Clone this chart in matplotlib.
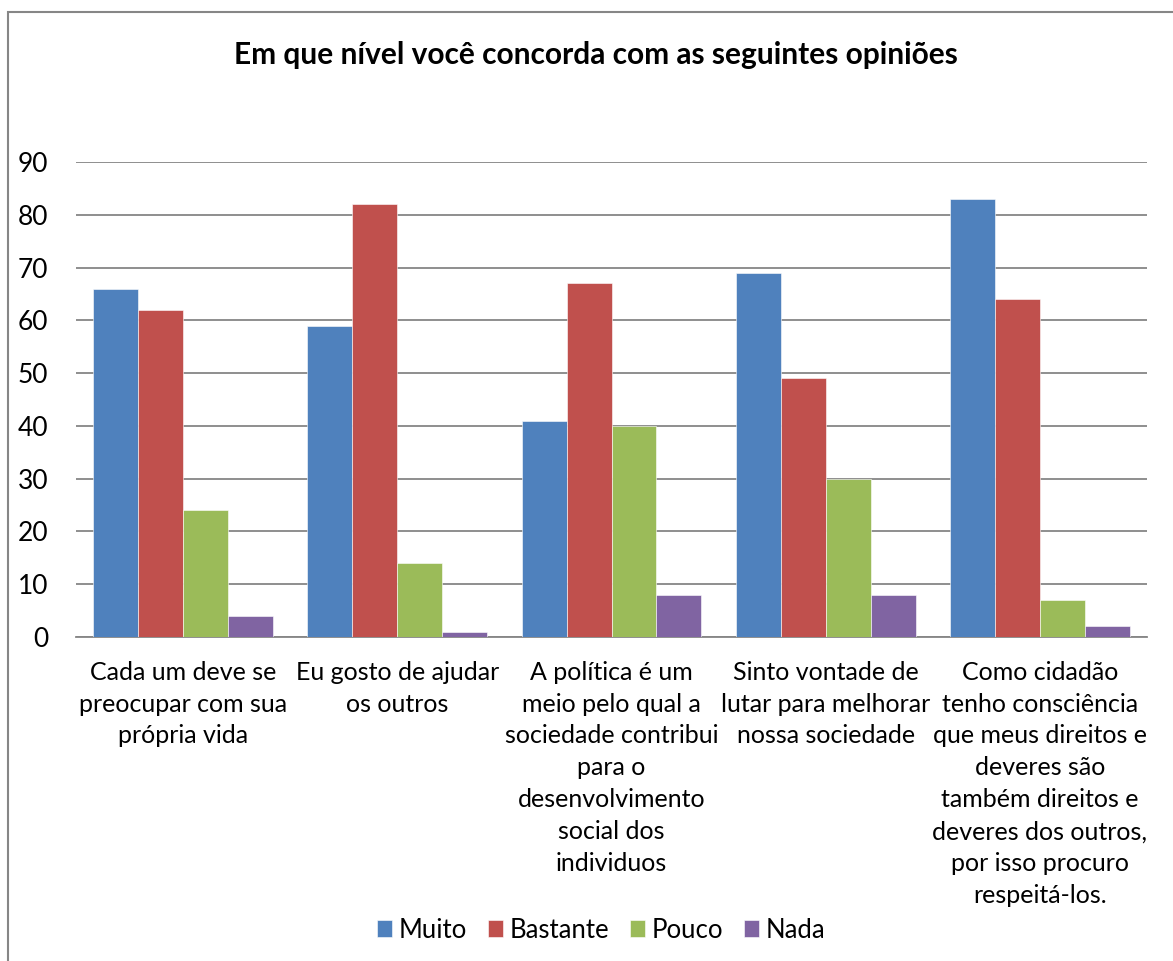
import matplotlib.pyplot as plt
from matplotlib.patches import Rectangle
import numpy as np

categories = [
    "Cada um deve se\npreocupar com sua\nprópria vida",
    "Eu gosto de ajudar\nos outros",
    "A política é um\nmeio pelo qual a\nsociedade contribui\npara o\ndesenvolvimento\nsocial dos\nindividuos",
    "Sinto vontade de\nlutar para melhorar\nnossa sociedade",
    "Como cidadão\ntenho consciência\nque meus direitos e\ndeveres são\ntambém direitos e\ndeveres dos outros,\npor isso procuro\nrespeitá-los.",
]
series_names = ["Muito", "Bastante", "Pouco", "Nada"]
muito = [66, 59, 41, 69, 83]
bastante = [62, 82, 67, 49, 64]
pouco = [24, 14, 40, 30, 7]
nada = [4, 1, 8, 8, 2]
title = "Em que nível você concorda com as seguintes opiniões"

colors = ["#4F81BD", "#C0504D", "#9BBB59", "#8064A2"]
plt.rcParams['font.family'] = ['Lato', 'DejaVu Sans']

W, H = 1173, 961
fig = plt.figure(figsize=(W / 100, H / 100), dpi=100)

# outer chart border (right/bottom edges cut off in the reference)
fig.patches.append(Rectangle((8 / W, -0.01), 1.05, 1 - 12 / H + 0.01,
                             transform=fig.transFigure, fill=False,
                             edgecolor="#868686", linewidth=1.5))

ax = fig.add_axes([76 / W, (H - 637) / H, (1147 - 76) / W, (637 - 162) / H])

x = np.arange(len(categories))
bw = 0.21
for i, (vals, name) in enumerate(zip([muito, bastante, pouco, nada], series_names)):
    ax.bar(x + (i - 1.5) * bw, vals, width=bw, color=colors[i], label=name,
           edgecolor="white", linewidth=0.4, zorder=3)

ax.set_xlim(-0.5, len(categories) - 0.5)
ax.set_ylim(0, 90)
ax.set_yticks(range(0, 91, 10))
ax.yaxis.grid(True, color="#868686", linewidth=1.3, zorder=0)
for s in ["top", "right", "left"]:
    ax.spines[s].set_visible(False)
ax.spines["bottom"].set_color("#868686")
ax.spines["bottom"].set_linewidth(1.3)
ax.tick_params(axis="y", length=0, pad=20, labelsize=19)
ax.tick_params(axis="x", length=0, pad=17, labelsize=18)
ax.set_xticks(x)
ax.set_xticklabels(categories, linespacing=1.47)

fig.text(596 / W, 1 - 55 / H, title, ha="center", va="center",
         fontsize=21.5, fontweight="bold")

fig.legend(loc="center", bbox_to_anchor=(601 / W, 1 - 930 / H), ncol=4,
           frameon=False, fontsize=18.5, handlelength=0.6, handleheight=0.6,
           handletextpad=0.25, columnspacing=0.8)

fig.savefig("out.png", dpi=100)
